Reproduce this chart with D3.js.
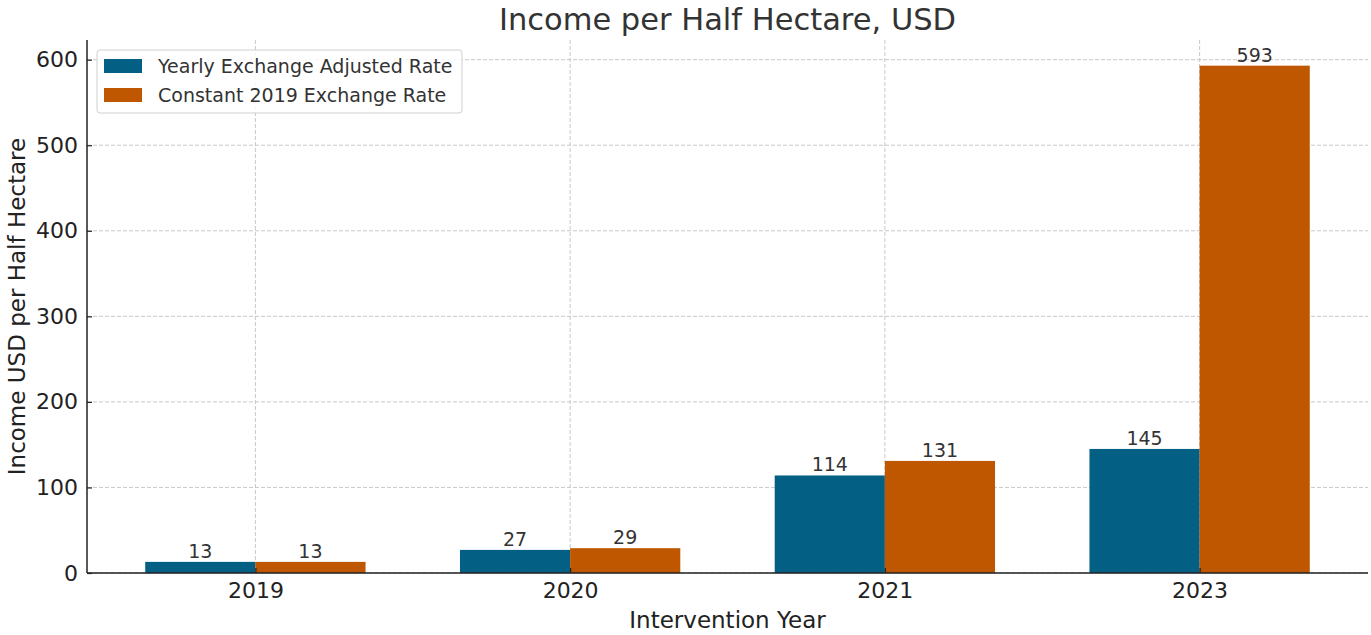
<!DOCTYPE html>
<html>
<head>
<meta charset="utf-8">
<script src="https://cdn.jsdelivr.net/npm/d3@7"></script>
<style>
  body { margin: 0; background: #fff; }
  text { font-family: "DejaVu Sans", sans-serif; }
</style>
</head>
<body>
<div id="chart"></div>
<script>
// data
var years = ["2019", "2020", "2021", "2023"];
var yearly = [13, 27, 114, 145];
var constant2019 = [13, 29, 131, 593];
var seriesNames = ["Yearly Exchange Adjusted Rate", "Constant 2019 Exchange Rate"];
var colors = ["#035f83", "#bf5700"];
var yTicks = [0, 100, 200, 300, 400, 500, 600];

var W = 1371, H = 635;
var margin = { top: 40, right: 3, bottom: 62, left: 87 };
var width = W - margin.left - margin.right,
    height = H - margin.top - margin.bottom;

var svg = d3.select("#chart").append("svg")
    .attr("width", W)
    .attr("height", H);

var g = svg.append("g")
    .attr("transform", "translate(" + margin.left + "," + margin.top + ")");

// categorical positions as index units, like matplotlib
var barW = 0.35;
var x = d3.scaleLinear().domain([-0.535, 3.535]).range([0, width]);
var y = d3.scaleLinear().domain([0, 623]).range([height, 0]);

// grid lines
g.append("g").selectAll("line")
    .data(yTicks)
    .enter().append("line")
    .attr("x1", 0).attr("x2", width)
    .attr("y1", d => y(d)).attr("y2", d => y(d))
    .attr("stroke", "#c8c8c8").attr("stroke-dasharray", "4,2").attr("stroke-width", 1);

g.append("g").selectAll("line")
    .data(years)
    .enter().append("line")
    .attr("x1", (d, i) => x(i)).attr("x2", (d, i) => x(i))
    .attr("y1", 0).attr("y2", height)
    .attr("stroke", "#c8c8c8").attr("stroke-dasharray", "4,2").attr("stroke-width", 1);

// bars
var series = [yearly, constant2019];
series.forEach(function(vals, s) {
    var off = s === 0 ? -barW : 0;
    g.append("g").selectAll("rect")
        .data(vals)
        .enter().append("rect")
        .attr("x", (d, i) => x(i + off))
        .attr("width", x(barW) - x(0))
        .attr("y", d => y(d))
        .attr("height", d => height - y(d))
        .attr("fill", colors[s]);

    g.append("g").selectAll("text")
        .data(vals)
        .enter().append("text")
        .attr("x", (d, i) => x(i + off + barW / 2))
        .attr("y", d => y(d) - 4)
        .attr("text-anchor", "middle")
        .attr("font-size", "19px")
        .attr("fill", "#333")
        .text(d => d);
});

// axes
var yAxis = g.append("g")
    .call(d3.axisLeft(y).tickValues(yTicks).tickSizeInner(-5).tickSizeOuter(0).tickPadding(9));
var xAxis = g.append("g")
    .attr("transform", "translate(0," + height + ")")
    .call(d3.axisBottom(x).tickValues([0, 1, 2, 3]).tickFormat(i => years[i])
        .tickSizeInner(-5).tickSizeOuter(0).tickPadding(9));

[yAxis, xAxis].forEach(function(a) {
    a.select(".domain").attr("stroke", "#222").attr("stroke-width", 1.5);
    a.selectAll(".tick line").attr("stroke", "#222").attr("stroke-width", 1.2);
    a.selectAll(".tick text").attr("font-size", "22px").attr("fill", "#222")
        .attr("font-family", "DejaVu Sans, sans-serif");
});
// domain path should span full width/height
yAxis.select(".domain").attr("d", "M0,0V" + height);
xAxis.select(".domain").attr("d", "M0,0H" + width);

// title and axis labels
svg.append("text")
    .attr("x", margin.left + width / 2)
    .attr("y", 30)
    .attr("text-anchor", "middle")
    .attr("font-size", "30.5px")
    .attr("fill", "#333")
    .text("Income per Half Hectare, USD");

svg.append("text")
    .attr("x", margin.left + width / 2)
    .attr("y", 628)
    .attr("text-anchor", "middle")
    .attr("font-size", "23px")
    .attr("fill", "#222")
    .text("Intervention Year");

svg.append("text")
    .attr("transform", "translate(25," + (margin.top + height / 2) + ") rotate(-90)")
    .attr("text-anchor", "middle")
    .attr("font-size", "23px")
    .attr("fill", "#222")
    .text("Income USD per Half Hectare");

// legend
var legend = g.append("g").attr("transform", "translate(10,10)");
legend.append("rect")
    .attr("width", 365).attr("height", 63).attr("rx", 3)
    .attr("fill", "white").attr("fill-opacity", 0.85)
    .attr("stroke", "#d0d0d0");
seriesNames.forEach(function(name, s) {
    legend.append("rect")
        .attr("x", 7).attr("y", 9 + s * 29)
        .attr("width", 38).attr("height", 14)
        .attr("fill", colors[s]);
    legend.append("text")
        .attr("x", 61).attr("y", 23 + s * 29)
        .attr("font-size", "19px")
        .attr("fill", "#333")
        .text(name);
});
</script>
</body>
</html>
